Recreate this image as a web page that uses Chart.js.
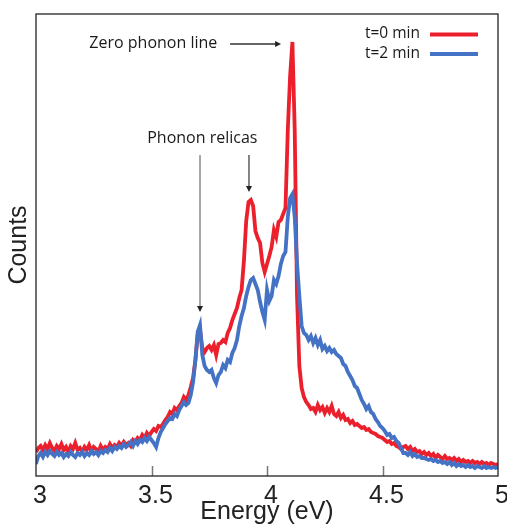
<!DOCTYPE html>
<html><head><meta charset="utf-8">
<script src="https://cdn.jsdelivr.net/npm/chart.js@4.4.1/dist/chart.umd.min.js"></script>
<style>html,body{margin:0;padding:0;background:#fff;}</style>
</head><body>
<canvas id="c" width="507" height="525"></canvas>
<script>
// Energy grid (eV)
const energy = [
3.00,3.01,3.02,3.03,3.04,3.05,3.06,3.07,3.08,3.09,
3.10,3.11,3.12,3.13,3.14,3.15,3.16,3.17,3.18,3.19,
3.20,3.21,3.22,3.23,3.24,3.25,3.26,3.27,3.28,3.29,
3.30,3.31,3.32,3.33,3.34,3.35,3.36,3.37,3.38,3.39,
3.40,3.41,3.42,3.43,3.44,3.45,3.46,3.47,3.48,3.49,
3.50,3.51,3.52,3.53,3.54,3.55,3.56,3.57,3.58,3.59,
3.60,3.61,3.62,3.63,3.64,3.65,3.66,3.67,3.68,3.69,
3.70,3.71,3.72,3.73,3.74,3.75,3.76,3.77,3.78,3.79,
3.80,3.81,3.82,3.83,3.84,3.85,3.86,3.87,3.88,3.89,
3.90,3.91,3.92,3.93,3.94,3.95,3.96,3.97,3.98,3.99,
4.00,4.01,4.02,4.03,4.04,4.05,4.06,4.07,4.08,4.09,
4.10,4.11,4.12,4.13,4.14,4.15,4.16,4.17,4.18,4.19,
4.20,4.21,4.22,4.23,4.24,4.25,4.26,4.27,4.28,4.29,
4.30,4.31,4.32,4.33,4.34,4.35,4.36,4.37,4.38,4.39,
4.40,4.41,4.42,4.43,4.44,4.45,4.46,4.47,4.48,4.49,
4.50,4.51,4.52,4.53,4.54,4.55,4.56,4.57,4.58,4.59,
4.60,4.61,4.62,4.63,4.64,4.65,4.66,4.67,4.68,4.69,
4.70,4.71,4.72,4.73,4.74,4.75,4.76,4.77,4.78,4.79,
4.80,4.81,4.82,4.83,4.84,4.85,4.86,4.87,4.88,4.89,
4.90,4.91,4.92,4.93,4.94,4.95,4.96,4.97,4.98,4.99,
5.00];

// Counts, t = 0 min (red)
const countsT0 = [
24,28,30,26,31,27,33,28,25,30,
27,32,26,29,24,30,27,33,26,28,
24,29,26,31,25,29,27,24,30,26,
29,27,32,28,31,29,33,30,34,31,
33,30,36,34,38,36,41,38,43,40,
44,47,45,50,49,52,56,59,64,62,
68,66,70,73,79,76,81,89,98,116,
141,146,128,124,128,130,126,131,121,132,
133,136,134,143,148,156,162,168,178,186,
215,255,274,276,270,245,238,233,213,204,
212,220,229,246,239,254,256,262,268,346,
400,434,346,180,110,88,79,74,71,67,
68,64,71,66,69,63,68,64,70,62,
60,64,58,61,56,57,53,55,51,52,
50,48,49,46,47,44,43,42,40,39,
38,36,34,35,32,33,30,29,27,29,
30,27,29,25,27,24,25,22,24,21,
23,20,22,18,21,19,17,20,17,18,
16,18,15,17,14,16,14,15,13,15,
13,14,12,14,12,13,11,13,12,11,
12];

// Counts, t = 2 min (blue)
const countsT2 = [
12,20,23,19,24,21,25,22,20,24,
21,23,19,22,20,24,21,19,23,21,
24,20,23,21,25,22,24,21,25,23,
26,24,28,25,29,27,30,28,32,29,
31,34,30,35,32,36,34,38,35,39,
36,33,29,38,44,48,52,55,58,57,
62,60,66,70,74,71,73,81,94,116,
144,151,121,110,106,104,106,98,93,101,
104,111,108,116,114,123,128,136,150,160,
168,180,189,196,198,192,186,174,164,156,
186,175,180,196,192,200,212,220,224,259,
278,282,259,213,180,150,143,141,136,140,
133,138,131,136,127,130,125,128,124,126,
122,120,118,112,110,104,100,96,90,88,
82,76,72,67,70,64,62,57,54,50,
48,45,41,42,38,39,35,33,28,23,
23,21,24,20,22,19,20,18,18,17,
16,17,15,16,14,15,13,14,12,14,
11,13,10,12,10,11,9,11,9,10,
8,10,9,8,10,8,9,8,9,8,
9];

const xTickValues = [3, 3.5, 4, 4.5, 5];
const seriesLabels = ['t=0 min', 't=2 min'];

const RED = 'rgb(236,32,44)';
const BLUE = 'rgb(68,114,196)';
const AXIS_FONT = '"Liberation Sans", Arial, Helvetica, sans-serif';
const NOTE_FONT = '"Open Sans", "Noto Sans", sans-serif';

// annotation placement (data coordinates)
const notes = {
  zplText: {text: 'Zero phonon line', x: 3.785, y: 433, align: 'right'},
  relicText: {text: 'Phonon relicas', x: 3.72, y: 338, align: 'center'},
  arrows: [
    {x0: 3.84, y0: 432, x1: 4.061, y1: 432, line: '#333'},
    {x0: 3.71, y0: 321, x1: 3.71, y1: 164, line: '#777'},
    {x0: 3.922, y0: 321, x1: 3.922, y1: 284, line: '#444'}
  ]
};

function pairs(xs, ys) { return xs.map((x, i) => ({x: x, y: ys[i]})); }

const decor = {
  id: 'decor',
  afterDatasetsDraw(chart) {
    const {ctx, chartArea: a, scales: {x, y}} = chart;
    ctx.save();
    // inner ticks
    ctx.strokeStyle = '#777';
    ctx.lineWidth = 1.5;
    xTickValues.forEach(v => {
      if (v === x.min || v === x.max) return;
      const px = Math.round(x.getPixelForValue(v)) + 0.5;
      ctx.beginPath(); ctx.moveTo(px, a.bottom); ctx.lineTo(px, a.bottom - 10); ctx.stroke();
    });
    // frame
    ctx.strokeStyle = '#222';
    ctx.lineWidth = 1.3;
    ctx.strokeRect(a.left, a.top, a.right - a.left, a.bottom - a.top);

    // legend
    ctx.font = '15.5px ' + NOTE_FONT;
    ctx.textBaseline = 'middle';
    ctx.textAlign = 'right';
    chart.data.datasets.forEach((ds, i) => {
      const yy = a.top + 20 + i * 19.5;
      ctx.fillStyle = '#1a1a1a';
      ctx.fillText(ds.label, a.right - 78, yy);
      ctx.strokeStyle = ds.borderColor;
      ctx.lineWidth = 4;
      ctx.beginPath(); ctx.moveTo(a.right - 68, yy + 0.5); ctx.lineTo(a.right - 20, yy + 0.5); ctx.stroke();
    });

    // annotations
    ctx.font = '16px ' + NOTE_FONT;
    ctx.fillStyle = '#1a1a1a';
    [notes.zplText, notes.relicText].forEach(n => {
      ctx.textAlign = n.align;
      ctx.fillText(n.text, x.getPixelForValue(n.x), y.getPixelForValue(n.y));
    });
    notes.arrows.forEach(ar => {
      const x0 = x.getPixelForValue(ar.x0), y0 = y.getPixelForValue(ar.y0);
      const x1 = x.getPixelForValue(ar.x1), y1 = y.getPixelForValue(ar.y1);
      const ang = Math.atan2(y1 - y0, x1 - x0);
      const L = 6, W = 3;
      const bx = x1 - L * Math.cos(ang), by = y1 - L * Math.sin(ang);
      ctx.strokeStyle = ar.line;
      ctx.lineWidth = 1.3;
      ctx.beginPath(); ctx.moveTo(x0, y0); ctx.lineTo(bx, by); ctx.stroke();
      ctx.fillStyle = '#222';
      ctx.beginPath();
      ctx.moveTo(x1, y1);
      ctx.lineTo(bx + W * Math.sin(ang), by - W * Math.cos(ang));
      ctx.lineTo(bx - W * Math.sin(ang), by + W * Math.cos(ang));
      ctx.closePath(); ctx.fill();
    });
    ctx.restore();
  }
};

new Chart(document.getElementById('c'), {
  type: 'line',
  data: {
    datasets: [
      {label: seriesLabels[0], data: pairs(energy, countsT0), borderColor: RED, borderWidth: 3.8, pointRadius: 0, tension: 0, order: 2},
      {label: seriesLabels[1], data: pairs(energy, countsT2), borderColor: BLUE, borderWidth: 3.8, pointRadius: 0, tension: 0, order: 1}
    ]
  },
  options: {
    responsive: false,
    animation: false,
    devicePixelRatio: 1,
    events: [],
    layout: {padding: {left: 0, right: 9, top: 14, bottom: 0}},
    plugins: {legend: {display: false}, tooltip: {enabled: false}},
    scales: {
      x: {
        type: 'linear', min: 3, max: 5,
        afterBuildTicks: s => { s.ticks = xTickValues.map(v => ({value: v})); },
        afterFit: s => { s.height = 49; },
        grid: {display: false, drawTicks: false},
        border: {display: false},
        ticks: {font: {family: AXIS_FONT, size: 25, lineHeight: 1.6}, color: '#222', padding: 0, labelOffset: 4, maxRotation: 0, autoSkip: false,
                callback: v => String(v)},
        title: {display: true, text: 'Energy (eV)', font: {family: AXIS_FONT, size: 25, lineHeight: 1}, color: '#222', padding: {top: 0, bottom: 0}}
      },
      y: {
        min: 0, max: 462,
        afterFit: s => { s.width = 36; },
        grid: {display: false, drawTicks: false},
        border: {display: false},
        ticks: {display: false},
        title: {display: true, text: 'Counts', font: {family: AXIS_FONT, size: 25, lineHeight: 1}, color: '#222', padding: {top: 7, bottom: 0}}
      }
    }
  },
  plugins: [decor]
});
</script>
</body></html>
